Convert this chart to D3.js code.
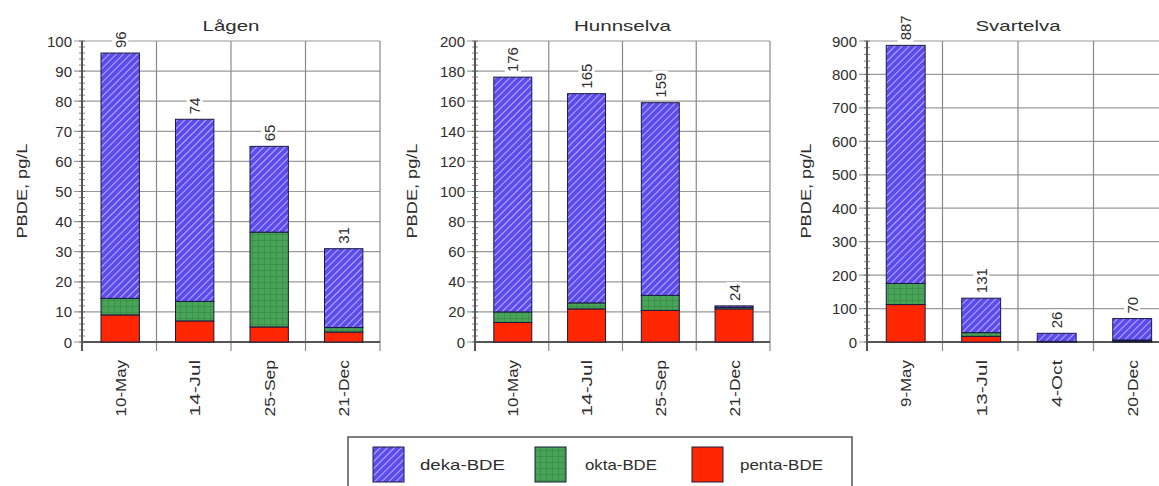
<!DOCTYPE html>
<html>
<head>
<meta charset="utf-8">
<script src="https://cdn.jsdelivr.net/npm/d3@7"></script>
<style>
  html, body { margin: 0; padding: 0; background: #fff; }
  svg { display: block; }
  text { font-family: "Liberation Sans", Arial, sans-serif; fill: #2e2e2e; }
</style>
</head>
<body>
<svg id="chart" width="1159" height="486"></svg>
<script>
// PBDE concentrations (pg/L) per river and sampling date
const rivers = ["Lågen", "Hunnselva", "Svartelva"];

const lagenDates  = ["10-May", "14-Jul", "25-Sep", "21-Dec"];
const lagenPenta  = [9, 7, 5, 3.3];
const lagenOkta   = [5.5, 6.5, 31.5, 1.5];
const lagenTotal  = [96, 74, 65, 31];
const lagenTicks  = [0, 10, 20, 30, 40, 50, 60, 70, 80, 90, 100];

const hunnDates   = ["10-May", "14-Jul", "25-Sep", "21-Dec"];
const hunnPenta   = [13, 22, 21, 22];
const hunnOkta    = [7, 4, 10, 1];
const hunnTotal   = [176, 165, 159, 24];
const hunnTicks   = [0, 20, 40, 60, 80, 100, 120, 140, 160, 180, 200];

const svartDates  = ["9-May", "13-Jul", "4-Oct", "20-Dec"];
const svartPenta  = [112, 17, 1, 3];
const svartOkta   = [63, 11, 1, 3];
const svartTotal  = [887, 131, 26, 70];
const svartTicks  = [0, 100, 200, 300, 400, 500, 600, 700, 800, 900];

const seriesNames = ["deka-BDE", "okta-BDE", "penta-BDE"];
const yLabel = "PBDE, pg/L";

const svg = d3.select("#chart");

// ---- fill patterns ----
const defs = svg.append("defs");
const hatch = defs.append("pattern")
  .attr("id", "hatchBlue").attr("patternUnits", "userSpaceOnUse")
  .attr("width", 5).attr("height", 5)
  .attr("patternTransform", "rotate(45)");
hatch.append("rect").attr("width", 5).attr("height", 5).attr("fill", "#5c4cf0");
hatch.append("line").attr("x1", 0).attr("y1", 0).attr("x2", 0).attr("y2", 5)
  .attr("stroke", "#b7b0ff").attr("stroke-width", 2);

const greenPat = defs.append("pattern")
  .attr("id", "gridGreen").attr("patternUnits", "userSpaceOnUse")
  .attr("width", 6).attr("height", 6);
greenPat.append("rect").attr("width", 6).attr("height", 6).attr("fill", "#48a456");
greenPat.append("path").attr("d", "M0,0.5H6M0.5,0V6")
  .attr("stroke", "#3a8d47").attr("stroke-width", 0.8).attr("fill", "none");

const fills = { deka: "url(#hatchBlue)", okta: "url(#gridGreen)", penta: "#ff2600" };

const plotTop = 41, plotBottom = 342;

const panels = [
  { title: rivers[0], dates: lagenDates, penta: lagenPenta, okta: lagenOkta, total: lagenTotal,
    ticks: lagenTicks, left: 82, right: 380, ylx: 21, titleLen: 57 },
  { title: rivers[1], dates: hunnDates, penta: hunnPenta, okta: hunnOkta, total: hunnTotal,
    ticks: hunnTicks, left: 475, right: 770, ylx: 411, titleLen: 97 },
  { title: rivers[2], dates: svartDates, penta: svartPenta, okta: svartOkta, total: svartTotal,
    ticks: svartTicks, left: 867, right: 1169, ylx: 805, titleLen: 85 }
];

panels.forEach(p => {
  const g = svg.append("g");
  const yMax = p.ticks[p.ticks.length - 1];
  const y = d3.scaleLinear().domain([0, yMax]).range([plotBottom, plotTop]);
  const x = d3.scaleBand().domain(p.dates).range([p.left, p.right]).paddingInner(0).paddingOuter(0);
  const bw = x.bandwidth();
  const step = p.ticks[1] - p.ticks[0];

  // horizontal gridlines + major ticks
  g.selectAll(".hgrid").data(p.ticks).join("line")
    .attr("x1", p.left - 8).attr("x2", p.right)
    .attr("y1", d => y(d)).attr("y2", d => y(d))
    .attr("stroke", "#9a9a9a").attr("stroke-width", 1.2);

  // vertical category separators, extending below the axis as ticks
  const bounds = p.dates.map(d => x(d)).concat([p.right]);
  g.selectAll(".vgrid").data(bounds).join("line")
    .attr("x1", d => d).attr("x2", d => d)
    .attr("y1", plotTop).attr("y2", plotBottom + 9)
    .attr("stroke", "#8a8a8a").attr("stroke-width", 1.2);

  // minor ticks on the value axis
  const minor = d3.range(0, yMax + 1e-9, step / 5);
  g.selectAll(".minor").data(minor).join("line")
    .attr("x1", p.left - 3).attr("x2", p.left + 3)
    .attr("y1", d => y(d)).attr("y2", d => y(d))
    .attr("stroke", "#666").attr("stroke-width", 0.8);

  // axes
  g.append("line").attr("x1", p.left).attr("x2", p.left).attr("y1", plotTop).attr("y2", plotBottom + 9)
    .attr("stroke", "#555").attr("stroke-width", 2);
  g.append("line").attr("x1", p.left).attr("x2", p.right).attr("y1", plotBottom).attr("y2", plotBottom)
    .attr("stroke", "#555").attr("stroke-width", 2);

  // tick labels
  g.selectAll(".ytl").data(p.ticks).join("text")
    .attr("x", p.left - 10).attr("y", d => y(d))
    .attr("text-anchor", "end").attr("dominant-baseline", "central")
    .attr("font-size", 15).text(d => d);

  // stacked bars: penta, okta, deka (remainder up to the stated total)
  p.dates.forEach((d, i) => {
    const x0 = x(d) + bw * 0.255, w = bw * 0.515;
    const segs = [
      { k: "penta", a: 0, b: p.penta[i] },
      { k: "okta", a: p.penta[i], b: p.penta[i] + p.okta[i] },
      { k: "deka", a: p.penta[i] + p.okta[i], b: p.total[i] }
    ];
    segs.forEach(s => {
      g.append("rect")
        .attr("x", x0).attr("width", w)
        .attr("y", y(s.b)).attr("height", Math.max(0, y(s.a) - y(s.b)))
        .attr("fill", fills[s.k])
        .attr("stroke", "#1a1a40").attr("stroke-width", 1);
    });

    // value label (rotated) with white background
    const cx = x0 + w / 2;
    const ty = y(p.total[i]) - 5;
    const lbl = g.append("g").attr("transform", `translate(${cx},${ty}) rotate(-90)`);
    const bg = lbl.append("rect").attr("fill", "#fff");
    const t = lbl.append("text").attr("x", 0).attr("y", 0)
      .attr("dominant-baseline", "central").attr("font-size", 15)
      .text(p.total[i]);
    const len = t.node().getComputedTextLength();
    bg.attr("x", -2).attr("y", -8).attr("width", len + 4).attr("height", 16);

    // category label (rotated)
    g.append("text")
      .attr("transform", `translate(${cx},${plotBottom + 18}) rotate(-90)`)
      .attr("text-anchor", "end").attr("dominant-baseline", "central")
      .attr("font-size", 15).attr("textLength", d.length * 9.4).attr("lengthAdjust", "spacingAndGlyphs")
      .text(d);
  });

  // title
  g.append("text")
    .attr("x", (p.left + p.right) / 2).attr("y", 31)
    .attr("text-anchor", "middle").attr("font-size", 15)
    .attr("textLength", p.titleLen).attr("lengthAdjust", "spacingAndGlyphs")
    .text(p.title);

  // value axis title
  g.append("text")
    .attr("transform", `translate(${p.ylx},191) rotate(-90)`)
    .attr("text-anchor", "middle").attr("dominant-baseline", "central")
    .attr("font-size", 15).attr("textLength", 95).attr("lengthAdjust", "spacingAndGlyphs")
    .text(yLabel);
});

// ---- legend ----
const legend = svg.append("g");
legend.append("rect").attr("x", 348).attr("y", 437).attr("width", 504).attr("height", 60)
  .attr("fill", "#fff").attr("stroke", "#555").attr("stroke-width", 1.5);
const legendItems = [
  { name: seriesNames[0], fill: fills.deka, sx: 373, tx: 420, len: 85 },
  { name: seriesNames[1], fill: fills.okta, sx: 535, tx: 585, len: 72 },
  { name: seriesNames[2], fill: fills.penta, sx: 692, tx: 740, len: 83 }
];
legendItems.forEach(it => {
  legend.append("rect").attr("x", it.sx).attr("y", 447).attr("width", 31).attr("height", 35)
    .attr("fill", it.fill).attr("stroke", "#1a1a40").attr("stroke-width", 1);
  legend.append("text").attr("x", it.tx).attr("y", 464)
    .attr("dominant-baseline", "central").attr("font-size", 15)
    .attr("textLength", it.len).attr("lengthAdjust", "spacingAndGlyphs")
    .text(it.name);
});
</script>
</body>
</html>
